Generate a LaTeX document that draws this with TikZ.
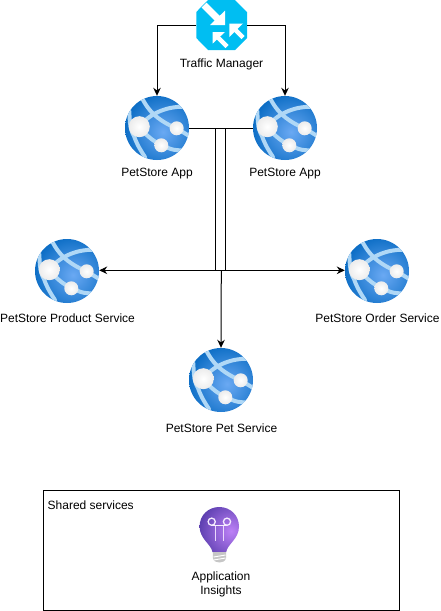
\documentclass[tikz,border=0pt]{standalone}
\usepackage{fontspec}
\setmainfont{Liberation Sans}
\usetikzlibrary{arrows.meta}
\definecolor{tmblue}{HTML}{00BEF2}
\definecolor{appedge}{HTML}{0A6CC4}
\definecolor{appmid}{HTML}{6AA9F3}
\definecolor{band}{HTML}{B0D8F6}
\definecolor{bulbA}{HTML}{BC80F6}
\definecolor{bulbB}{HTML}{5238A8}
\tikzset{
  x=1pt,y=-1pt,
  conn/.style={draw=black,line width=1pt},
  arrowconn/.style={conn,-{Stealth[length=8pt,width=7.5pt]}},
  lbl/.style={font=\fontsize{12}{14}\selectfont,inner sep=0pt,align=center,text=black},
  appdisc/.style={circle,minimum size=64pt,inner sep=0pt},
  bandline/.style={draw=band,line width=4pt,line cap=round},
  ballnode/.style={inner color=white,outer color=gray!15},
  bulbline/.style={draw=white!85!bulbA,line width=1.3pt}
}
\newcommand{\webapp}[3]{%
  \node[appdisc] (#1) at (#2,#3) {};
  \begin{scope}[shift={(#2,#3)}]
    \begin{scope}
      \clip (0,0) circle[radius=32];
      \shade[inner color=appmid,outer color=appedge] (6,4) circle[radius=40];
      \draw[bandline] (-15,-30) .. controls (-6,-12) and (6,-6) .. (20,1) .. controls (25,3) and (30,7) .. (34,9);
      \draw[bandline] (-18,-1) .. controls (-8,-14) and (10,-23) .. (32,-21);
      \draw[bandline] (-18,-1) .. controls (-10,8) and (-3,14) .. (5,17) .. controls (14,22) and (20,23) .. (28,22);
      \draw[bandline] (-28,-20) .. controls (-27,-10) and (-28,0) .. (-23,8) .. controls (-21,14) and (-18,20) .. (-12,29);
    \end{scope}
    \shade[ballnode] (-17.7,-1.3) circle[radius=10.5];
    \shade[ballnode] (19.7,0.3) circle[radius=7];
    \shade[ballnode] (4.3,17.3) circle[radius=7];
  \end{scope}
}
\begin{document}
\begin{tikzpicture}
\useasboundingbox (0,0) rectangle (440,611);
% traffic manager icon
\node[minimum width=51pt,minimum height=50pt,inner sep=0pt] (tm) at (221.6,25) {};
\fill[tmblue] (208,0) -- (235,0) -- (247,12) -- (247,38) -- (235,50) -- (208,50) -- (196.3,38) -- (196.3,12) -- cycle;
\draw[white,line width=7pt] (204,5) -- (218,19);
\fill[white] (225,25) -- (225,10.7) -- (210,25) -- cycle;
\draw[white,line width=4.5pt] (233,27.5) -- (243,37.5);
\fill[white] (229.3,23.5) -- (243,23.5) -- (229.3,37) -- cycle;
\draw[white,line width=4.5pt] (216.5,36) -- (227,46.5);
\fill[white] (212.7,32) -- (225,32) -- (212.7,43.5) -- cycle;
\node[lbl] (tmlabel) at (221.5,64) {Traffic Manager};
% apps
\webapp{appa}{157}{128}
\webapp{appb}{285}{128}
\webapp{prod}{67}{271}
\webapp{order}{377}{271}
\webapp{pet}{221}{380}
\node[lbl] at (157,174) (appalabel) {PetStore App};
\node[lbl] at (285,174) (appblabel) {PetStore App};
\node[lbl] at (67.5,318) (prodlabel) {PetStore Product Service};
\node[lbl] at (377.5,318) (orderlabel) {PetStore Order Service};
\node[lbl] at (221.5,428) (petlabel) {PetStore Pet Service};
% connectors
\draw[arrowconn] (tm.west |- tm.center) -| (appa.north);
\draw[arrowconn] (tm.east |- tm.center) -| (appb.north);
\coordinate (la) at (215.3,270.3);
\coordinate (lb) at (225.3,270.3);
\coordinate (stem) at (221.3,270.3);
\draw[conn] (appa.east) -- (appb.west);
\draw[conn] (la |- appa.east) -- (la);
\draw[conn] (lb |- appa.east) -- (lb);
\draw[arrowconn] (lb) -- (prod.east |- la);
\draw[arrowconn] (la) -- (order.west |- lb);
\draw[arrowconn] (stem) -- (pet.north);
% shared services
\node[draw=black,line width=1pt,minimum width=356pt,minimum height=120pt,inner sep=0pt] (shared) at (221.3,550.3) {};
\node[lbl,anchor=west] (sharedlabel) at (47.5,505.5) {Shared services};
% bulb
\node[minimum width=40pt,minimum height=56pt,inner sep=0pt] (bulb) at (219.5,534.5) {};
\begin{scope}
\clip (212.5,552) .. controls (211,544) and (199.6,539) .. (199.6,526.5)
  .. controls (199.6,515) and (208.5,507) .. (219.3,507)
  .. controls (230,507) and (239,515) .. (239,526.5)
  .. controls (239,539) and (227.5,544) .. (226.2,552) -- cycle;
\shade[inner color=bulbA,outer color=bulbB] (231,531) circle[radius=36];
\end{scope}
\fill[gray!45] (212.8,552) -- (226,552) -- (226,558) .. controls (225.5,561.5) and (222,562.5) .. (219.4,562.5)
  .. controls (217,562.5) and (213.3,561.5) .. (212.8,558) -- cycle;
\draw[white,line width=0.9pt] (213.5,557) -- (225.5,555);
\draw[white,line width=0.9pt] (213.5,560) -- (225.5,558);
\draw[bulbline] (211.7,521.7) circle[radius=3.6];
\draw[bulbline] (227,521.7) circle[radius=3.6];
\draw[bulbline] (211.7,525.5) -- (227,525.5);
\draw[draw=white!70!bulbA,line width=1.3pt] (215.7,525.5) -- (215.7,541);
\draw[draw=white!70!bulbA,line width=1.3pt] (223.3,525.5) -- (223.3,541);
\node[lbl] (bulblabel) at (221,584.5) {Application\\Insights};
\end{tikzpicture}
\end{document}
